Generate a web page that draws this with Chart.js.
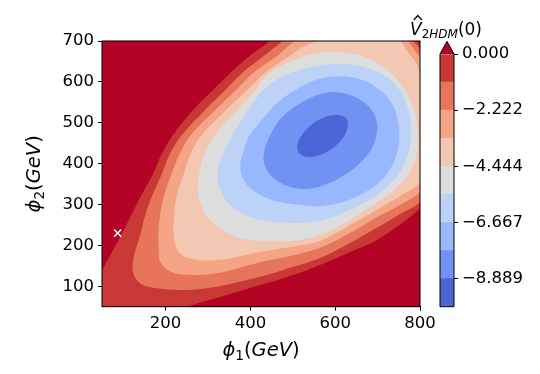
<!DOCTYPE html>
<html lang="en">
<head>
<meta charset="UTF-8">
<title>V2HDM contour</title>
<script src="https://cdn.jsdelivr.net/npm/chart.js"></script>
<style>
  body { margin: 0; background: #fff; }
  #wrap { position: relative; width: 540px; height: 374px; }
  #wrap canvas { position: absolute; left: 0; top: 0; }
</style>
</head>
<body>
<div id="wrap">
  <canvas id="plot" width="540" height="374"></canvas>
  <canvas id="cbar" width="540" height="374"></canvas>
</div>
<script>
// contour levels (colorbar) and the ticks shown
const levels = [-10, -8.889, -7.778, -6.667, -5.556, -4.444, -3.333, -2.222, -1.111, 0];
const cbTicks = [0, -2.222, -4.444, -6.667, -8.889];
const xTicks = [200, 400, 600, 800];
const yTicks = [100, 200, 300, 400, 500, 600, 700];
const marker = [[87, 230]];

// contour lines, [phi1, phi2] in GeV (parts run past the axes and get clipped)
const lvl0 = [[447,700],[505,746],[635,776],[753,771],[793,700],[800,690],[847,580],[859,482],[847,360],[800,291],[698,213],[635,184],[564,152],[494,125],[423,103],[329,74],[251,50],[187,18],[70,5],[22,66],[50,137],[70,177],[95,225],[119,274],[143,323],[169,372],[190,421],[216,468],[265,531],[312,580],[355,624],[404,668]];
const lvl1 = [[477,700],[541,746],[659,764],[758,746],[784,700],[793,690],[800,678],[833,580],[840,482],[833,372],[800,306],[753,277],[698,243],[635,206],[564,169],[494,145],[423,123],[321,99],[242,91],[180,95],[140,107],[123,136],[126,177],[140,225],[152,274],[169,323],[190,372],[209,421],[237,468],[293,531],[341,580],[383,624],[435,666]];
const lvl2 = [[505,700],[564,727],[659,739],[748,727],[772,700],[786,680],[800,658],[824,580],[828,482],[824,384],[800,331],[753,299],[698,269],[635,230],[564,194],[494,174],[423,159],[321,132],[250,128],[211,136],[187,160],[184,189],[183,225],[187,274],[197,323],[213,372],[232,421],[258,468],[317,531],[366,580],[409,624],[466,666]];
const lvl3 = [[557,700],[588,715],[659,724],[729,715],[753,700],[772,673],[791,646],[800,617],[814,556],[819,482],[814,409],[800,355],[753,321],[698,287],[635,250],[564,211],[494,196],[423,184],[321,164],[258,168],[230,185],[219,225],[220,274],[227,323],[242,372],[258,421],[284,468],[343,531],[392,580],[437,624],[496,666],[529,688]];
const lvl4 = [[616,673],[678,658],[729,624],[765,580],[786,531],[795,482],[795,441],[786,402],[769,367],[741,336],[698,304],[635,262],[564,225],[494,211],[447,210],[399,213],[357,225],[324,247],[296,274],[277,323],[279,372],[291,421],[315,468],[369,531],[411,578],[428,605],[463,634],[513,658],[564,671]];
const lvl5 = [[612,644],[670,636],[722,612],[755,575],[774,526],[779,477],[774,433],[758,389],[734,355],[698,323],[635,287],[564,260],[494,255],[428,262],[388,274],[357,294],[334,323],[322,372],[334,421],[357,468],[395,531],[430,580],[465,607],[508,627],[560,639]];
const lvl6 = [[612,614],[663,605],[706,580],[734,546],[748,504],[751,458],[743,416],[727,382],[699,350],[659,323],[612,304],[564,296],[517,299],[470,306],[428,321],[399,340],[381,367],[376,397],[381,421],[397,468],[423,502],[447,531],[475,558],[506,580],[560,607]];
const lvl7 = [[588,575],[635,568],[673,546],[694,517],[699,482],[689,443],[663,406],[626,375],[581,350],[536,338],[494,343],[463,358],[440,382],[431,408],[434,436],[446,468],[465,502],[494,531],[536,558]];
const lvl8 = [[627,509],[629,488],[617,461],[591,436],[560,420],[532,416],[514,427],[511,448],[524,474],[549,499],[580,515],[609,519]];
const contours = [lvl0, lvl1, lvl2, lvl3, lvl4, lvl5, lvl6, lvl7, lvl8];

// coolwarm, one colour per band from -10 up to 0, plus the "over" colour
const bandColors = ['#4b65d5', '#7092f3', '#97b8ff', '#bdd2f7', '#dddddd', '#f3c8b2', '#f6a486', '#e7755b', '#c83936'];
const overColor = '#b40426';

const tickFont = { family: 'DejaVu Sans', size: 16.5 };

function mathLabel(ctx, parts, x, y, rot) {
  ctx.save();
  ctx.translate(x, y);
  if (rot) ctx.rotate(rot);
  let w = 0;
  parts.forEach(p => { ctx.font = p[1]; w += ctx.measureText(p[0]).width; });
  let cx = -w / 2;
  ctx.fillStyle = '#000';
  ctx.textBaseline = 'alphabetic';
  ctx.textAlign = 'left';
  parts.forEach(p => {
    ctx.font = p[1];
    ctx.fillText(p[0], cx, p[2]);
    cx += ctx.measureText(p[0]).width;
  });
  ctx.restore();
}

const it = 'italic 19.5px "DejaVu Sans"', rm = '19.5px "DejaVu Sans"', sub = '13.6px "DejaVu Sans"';
function phiTitle(n) {
  return [['\u03d5', it, 0], [n, sub, 4], ['(', rm, 0], ['GeV', it, 0], [')', rm, 0]];
}

const plotDeco = {
  id: 'plotDeco',
  // contour lines are closed curves: let the spline wrap round smoothly
  afterDatasetUpdate(chart, args) {
    const line = args.meta.dataset;
    if (line && args.index < contours.length) {
      line._loop = true;
      line._fullLoop = true;
    }
  },
  beforeDatasetsDraw(chart) {
    const { ctx, chartArea: a } = chart;
    ctx.save();
    ctx.fillStyle = overColor;
    ctx.fillRect(a.left, a.top, a.right - a.left, a.bottom - a.top);
    ctx.restore();
  },
  afterDatasetsDraw(chart) {
    const { ctx, chartArea: a } = chart;
    ctx.save();
    ctx.strokeStyle = '#000';
    ctx.lineWidth = 1;
    ctx.strokeRect(a.left, a.top, a.right - a.left, a.bottom - a.top);
    ctx.restore();
  },
  afterDraw(chart) {
    const { ctx, chartArea: a } = chart;
    mathLabel(ctx, phiTitle('1'), (a.left + a.right) / 2, 356);
    mathLabel(ctx, phiTitle('2'), 40, (a.top + a.bottom) / 2, -Math.PI / 2);
  }
};

const datasets = contours.map((pts, k) => ({
  data: pts.map(p => ({ x: p[0], y: p[1] })),
  showLine: true,
  fill: 'shape',
  backgroundColor: bandColors[8 - k],
  borderWidth: 0,
  pointRadius: 0,
  tension: 0.35,
  order: 10 - k
}));
datasets.push({
  data: marker.map(p => ({ x: p[0], y: p[1] })),
  pointStyle: 'crossRot',
  pointRadius: 5,
  borderColor: '#fff',
  borderWidth: 1.5,
  order: 0
});

new Chart(document.getElementById('plot'), {
  type: 'scatter',
  data: { datasets },
  options: {
    responsive: false,
    animation: false,
    events: [],
    layout: { padding: { left: 0, top: 41, right: 120, bottom: 0 } },
    elements: { line: { capBezierPoints: false } },
    plugins: { legend: { display: false }, tooltip: { enabled: false } },
    scales: {
      x: {
        min: 50, max: 800,
        afterBuildTicks: s => { s.ticks = xTicks.map(v => ({ value: v })); },
        afterFit: s => { s.height = 67.3; },
        ticks: { font: tickFont, color: '#000', padding: 3, maxRotation: 0 },
        grid: { drawOnChartArea: false, drawTicks: true, tickLength: 4, color: '#000' },
        border: { color: '#000' }
      },
      y: {
        min: 50, max: 700,
        afterBuildTicks: s => { s.ticks = yTicks.map(v => ({ value: v })); },
        afterFit: s => { s.width = 102; },
        ticks: { font: tickFont, color: '#000', padding: 4 },
        grid: { drawOnChartArea: false, drawTicks: true, tickLength: 4, color: '#000' },
        border: { color: '#000' }
      }
    }
  },
  plugins: [plotDeco]
});

// colour bar
const cbDeco = {
  id: 'cbDeco',
  afterDatasetsDraw(chart) {
    const { ctx, chartArea: a } = chart;
    const y = chart.scales.y;
    const tip = y.getPixelForValue(0.5), top = y.getPixelForValue(0);
    ctx.save();
    ctx.beginPath();
    ctx.moveTo(a.left, top);
    ctx.lineTo((a.left + a.right) / 2, tip);
    ctx.lineTo(a.right, top);
    ctx.closePath();
    ctx.fillStyle = overColor;
    ctx.fill();
    ctx.beginPath();
    ctx.moveTo(a.left, a.bottom);
    ctx.lineTo(a.left, top);
    ctx.lineTo((a.left + a.right) / 2, tip);
    ctx.lineTo(a.right, top);
    ctx.lineTo(a.right, a.bottom);
    ctx.closePath();
    ctx.strokeStyle = '#000';
    ctx.lineWidth = 1;
    ctx.stroke();
    ctx.restore();
  },
  afterDraw(chart) {
    const { ctx } = chart;
    const vit = 'italic 17px "DejaVu Sans"', vrm = '17px "DejaVu Sans"', vsub = 'italic 12px "DejaVu Sans"', vsubr = '12px "DejaVu Sans"';
    const parts = [['V', vit, 0], ['2', vsubr, 3], ['HDM', vsub, 3], ['(0)', vrm, 0]];
    mathLabel(ctx, parts, 446, 35);
    // hat over the V
    ctx.save();
    let w = 0;
    parts.forEach(p => { ctx.font = p[1]; w += ctx.measureText(p[0]).width; });
    ctx.font = vit;
    const vx = 446 - w / 2 + ctx.measureText('V').width / 2 + 2;
    ctx.beginPath();
    ctx.moveTo(vx - 4, 20);
    ctx.lineTo(vx, 15.5);
    ctx.lineTo(vx + 4, 20);
    ctx.strokeStyle = '#000';
    ctx.lineWidth = 1.2;
    ctx.stroke();
    ctx.restore();
  }
};

new Chart(document.getElementById('cbar'), {
  type: 'bar',
  data: {
    labels: [''],
    datasets: levels.slice(0, -1).map((lo, i) => ({
      data: [[lo, levels[i + 1]]],
      backgroundColor: bandColors[i],
      borderWidth: 0,
      barPercentage: 1,
      categoryPercentage: 1,
      grouped: false
    }))
  },
  options: {
    responsive: false,
    animation: false,
    events: [],
    layout: { padding: { left: 440, top: 54, right: 0, bottom: 67.3 } },
    plugins: { legend: { display: false }, tooltip: { enabled: false } },
    scales: {
      x: { display: false },
      y: {
        position: 'right',
        min: -10, max: 0,
        afterBuildTicks: s => { s.ticks = cbTicks.map(v => ({ value: v })); },
        afterFit: s => { s.width = 86; },
        ticks: { font: tickFont, color: '#000', padding: 4, callback: v => v.toFixed(3).replace('-', '\u2212') },
        grid: { drawOnChartArea: false, drawTicks: true, tickLength: 4, color: '#000' },
        border: { display: false }
      }
    }
  },
  plugins: [cbDeco]
});
</script>
</body>
</html>
